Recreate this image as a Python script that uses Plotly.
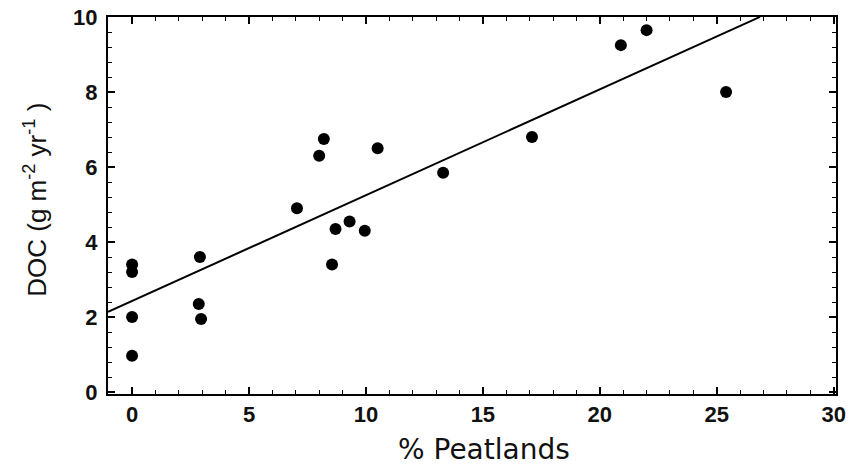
import plotly.graph_objects as go

# Data
peat_pct = [0.0, 0.0, 0.0, 0.0, 2.9, 2.85, 2.95, 7.05, 8.0, 8.2, 8.7, 8.55, 9.3, 9.95, 10.5, 13.3, 17.1, 20.9, 22.0, 25.4]
doc_flux = [3.4, 3.2, 2.0, 0.97, 3.6, 2.35, 1.95, 4.9, 6.3, 6.75, 4.35, 3.4, 4.55, 4.3, 6.5, 5.85, 6.8, 9.25, 9.65, 8.0]

fit_intercept = 2.43
fit_slope = 0.282
fit_x = [-1.03, 26.85]
fit_y = [fit_intercept + fit_slope * x for x in fit_x]

x_ticks = [0, 5, 10, 15, 20, 25, 30]
y_ticks = [0, 2, 4, 6, 8, 10]

x_title = "% Peatlands"
y_title = "DOC (g m<sup>-2</sup> yr<sup>-1</sup> )"

fig = go.Figure()
fig.add_trace(go.Scatter(x=fit_x, y=fit_y, mode="lines",
                         line=dict(color="black", width=2), showlegend=False))
fig.add_trace(go.Scatter(x=peat_pct, y=doc_flux, mode="markers",
                         marker=dict(color="black", size=12), showlegend=False))

tick_font = dict(family="Liberation Sans, Arial, sans-serif", size=22, weight="bold", color="#111")
axis_common = dict(ticks="inside", ticklen=7, tickwidth=1.5, tickcolor="black",
                   showline=True, linecolor="black", linewidth=2, mirror="ticks",
                   showgrid=False, zeroline=False, tickfont=tick_font, automargin=False)

fig.update_layout(
    width=854, height=466,
    margin=dict(l=108, r=18, t=17, b=72),
    plot_bgcolor="white", paper_bgcolor="white",
    font=dict(family="Liberation Sans, Arial, sans-serif", color="black"),
    xaxis=dict(range=[-1.03, 30.1], tickvals=x_ticks,
               minor=dict(dtick=1, ticks="inside", ticklen=4, tickcolor="black", tickwidth=1),
               **axis_common),
    yaxis=dict(range=[-0.05, 10], tickvals=y_ticks, ticklabelstandoff=4,
               minor=dict(dtick=0.4, ticks="inside", ticklen=4, tickcolor="black", tickwidth=1),
               **axis_common),
    annotations=[
        dict(text=x_title, xref="paper", yref="paper", x=0.516, y=-0.146,
             xanchor="center", yanchor="middle", showarrow=False,
             font=dict(family="DejaVu Sans, sans-serif", size=28, color="#111")),
        dict(text=y_title, xref="paper", yref="paper", x=-0.099, y=0.515,
             xanchor="center", yanchor="middle", showarrow=False, textangle=-90,
             font=dict(family="Liberation Sans, Arial, sans-serif", size=26, color="#111")),
    ],
)

fig.write_html("out.html")
